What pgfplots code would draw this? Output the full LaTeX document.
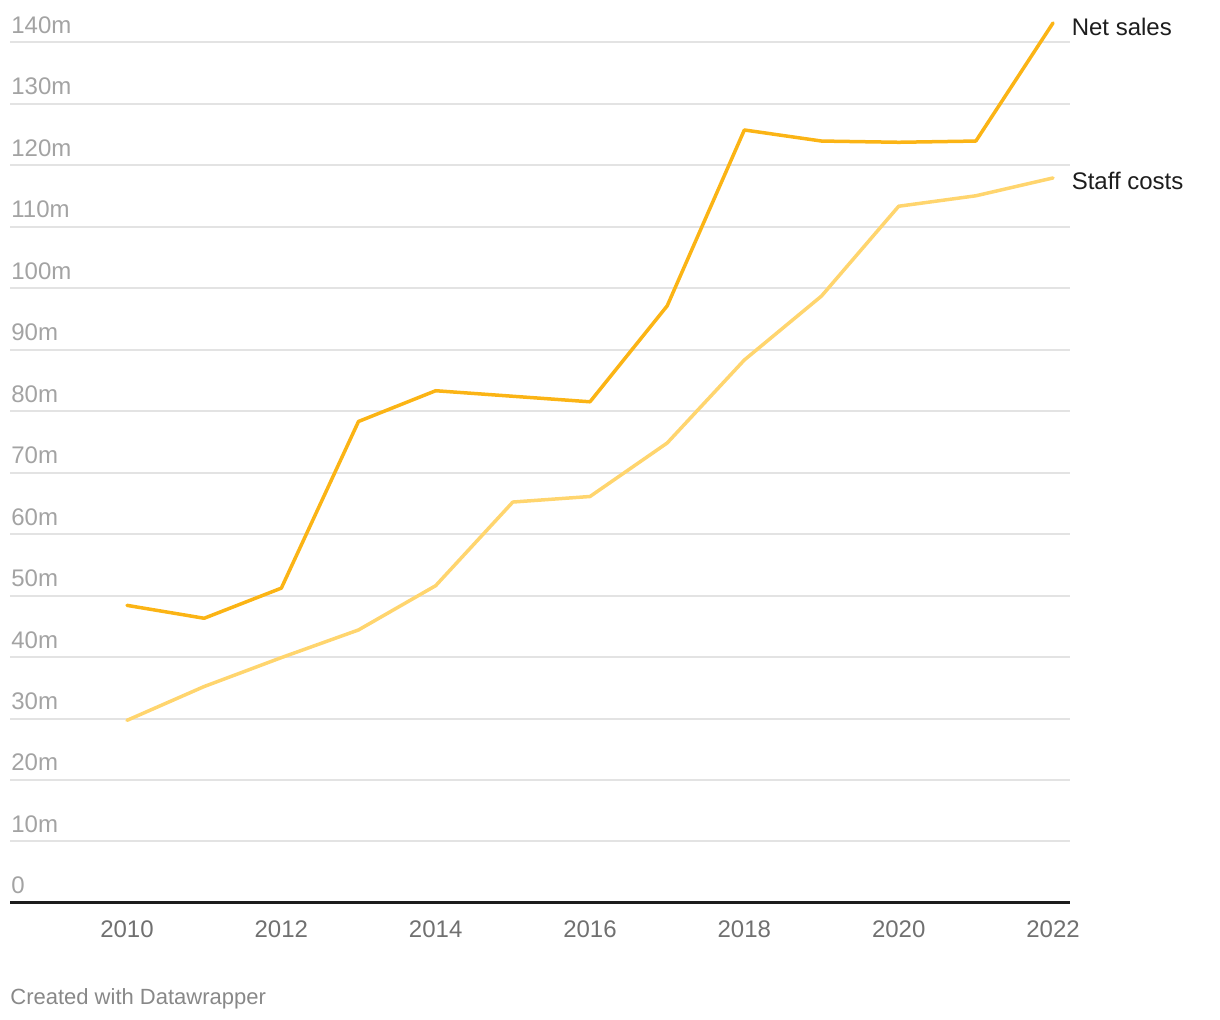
\documentclass[border=0pt]{standalone}
\usepackage{pgfplots}
\pgfplotsset{compat=1.18}
\usepackage{fontspec}
\setmainfont{Liberation Sans}
\definecolor{netc}{HTML}{FBB415}
\definecolor{staffc}{HTML}{FFD56E}
\definecolor{gridc}{HTML}{E3E3E3}
\definecolor{ylab}{HTML}{A3A3A3}
\definecolor{xlab}{HTML}{707070}
\definecolor{cred}{HTML}{888888}
\definecolor{lab}{HTML}{1D1D1D}
\begin{document}
\begin{tikzpicture}[x=1pt,y=1pt]
\path[use as bounding box] (-5,-58.5) rectangle (605,451.5);
\begin{axis}[
  at={(0,0)}, anchor=south west,
  scale only axis, width=530pt, height=444pt,
  xmin=2008.484, xmax=2022.22, ymin=0, ymax=144.4,
  clip=false,
  axis line style={draw=none},
  major tick length=0pt,
  xtick={2010,2012,...,2022},
  ytick={0,10,...,140},
  yticklabels={0,10m,20m,30m,40m,50m,60m,70m,80m,90m,100m,110m,120m,130m,140m},
  ymajorgrids, grid style={gridc, line width=1pt},
  /pgf/number format/1000 sep={},
  /pgf/number format/assume math mode=true,
  yticklabel style={anchor=base west, inner sep=0pt, font=\fontsize{12}{14}\selectfont, text=ylab, xshift=0.5pt, yshift=4.5pt},
  xticklabel style={anchor=base, inner sep=0pt, font=\fontsize{12}{14}\selectfont, text=xlab, yshift=-17.5pt},
]
\addplot[netc, line width=1.75pt, line join=round, line cap=round] coordinates {
  (2010,48.4) (2011,46.3) (2012,51.2) (2013,78.3) (2014,83.3) (2015,82.4) (2016,81.5)
  (2017,97.1) (2018,125.7) (2019,123.9) (2020,123.7) (2021,123.9) (2022,143.1)
} node[pos=1, anchor=base west, inner sep=0pt, xshift=8.5pt, yshift=-6.5pt, font=\fontsize{12}{14}\selectfont, text=lab] {Net sales};
\addplot[staffc, line width=1.75pt, line join=round, line cap=round] coordinates {
  (2010,29.7) (2011,35.2) (2012,39.9) (2013,44.4) (2014,51.6) (2015,65.2) (2016,66.1)
  (2017,74.8) (2018,88.3) (2019,98.7) (2020,113.3) (2021,115.0) (2022,117.9)
} node[pos=1, anchor=base west, inner sep=0pt, xshift=8.5pt, yshift=-6pt, font=\fontsize{12}{14}\selectfont, text=lab] {Staff costs};
\draw[color=lab, line width=1.5pt] (rel axis cs:0,0) -- (rel axis cs:1,0);
\end{axis}
\node[anchor=base west, inner sep=0pt, text=cred, font=\fontsize{11}{13}\selectfont] at (0,-51) {Created with Datawrapper};
\end{tikzpicture}
\end{document}
